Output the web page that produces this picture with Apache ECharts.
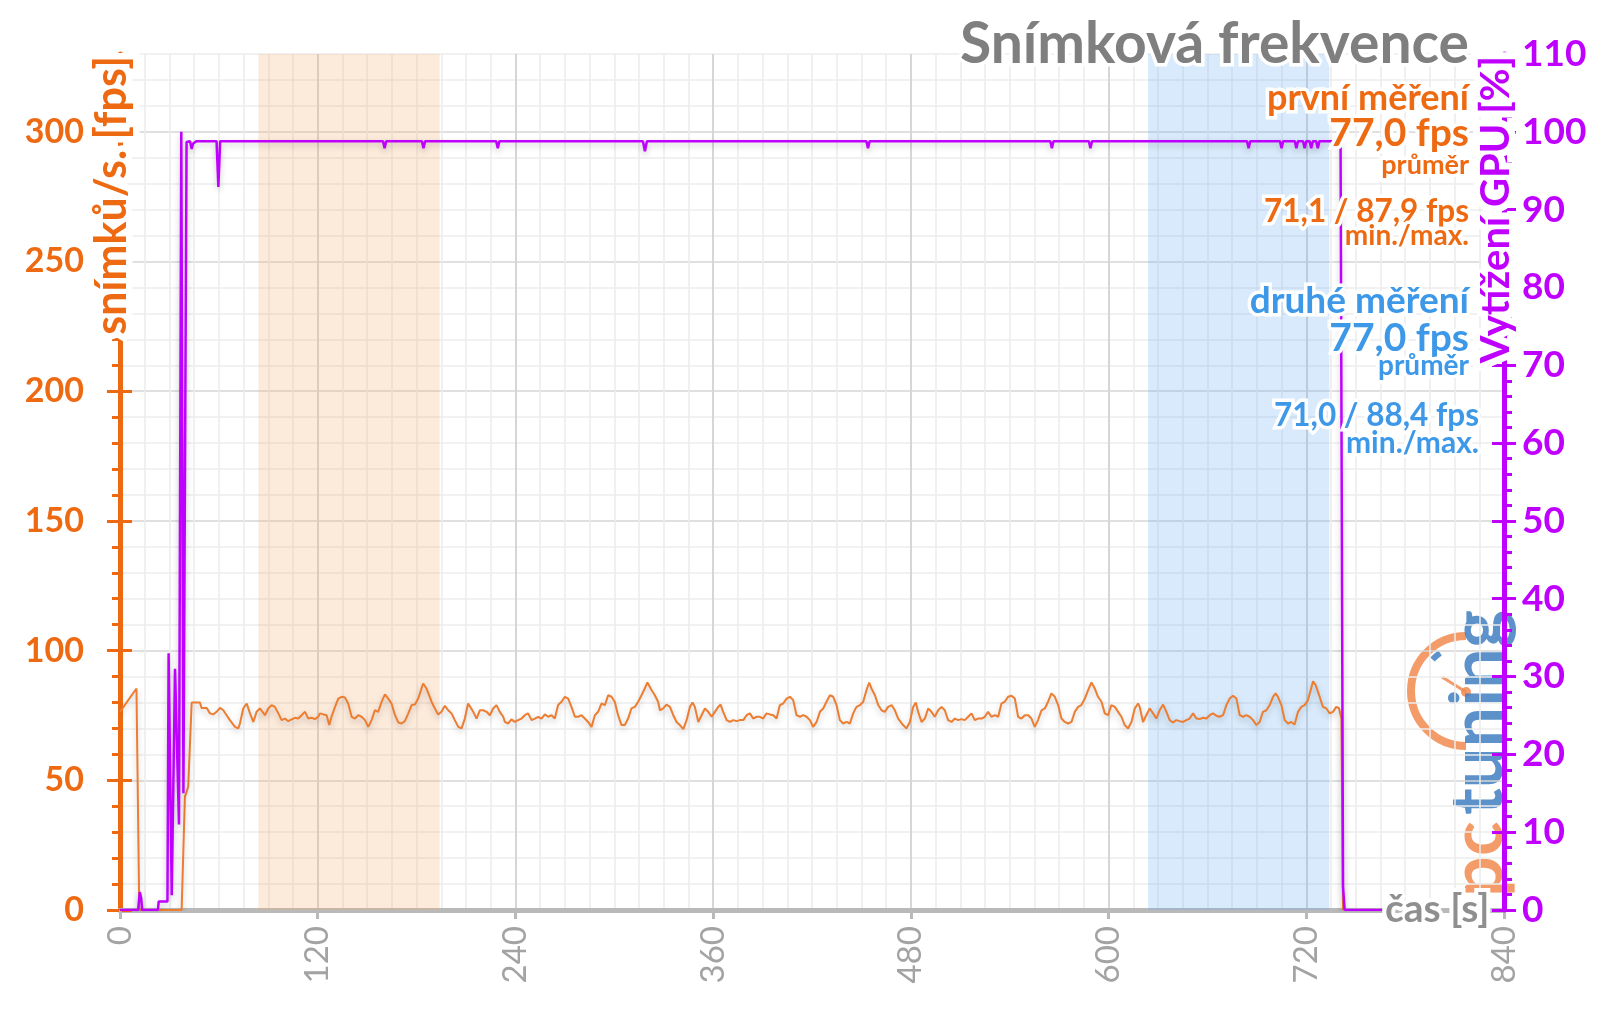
<!DOCTYPE html>
<html><head><meta charset="utf-8">
<script src="https://cdn.jsdelivr.net/npm/echarts@6/dist/echarts.min.js"></script>
<style>html,body{margin:0;padding:0;background:#fff}#c{width:1600px;height:1009px}</style>
</head><body><div id="c"></div>
<script>
// ---------- data ----------
const fpsTime = [0,10,11.7,37.4,39.4,41.4,43.5,48.5,49.5,52.6,54.6,56.6,58.6,60.7,62.7,64.7,66.7,69.8,71.8,72.8,74.8,76.9,78.9,80.9,82.9,84.9,88.0,90.0,92.0,94.0,96.1,98.1,100.1,102.1,104.2,106.2,108.2,110.2,112.3,114.3,116.3,118.3,120.3,121.4,123.4,125.4,127.0,128.4,130.5,132.5,134.5,136.5,138.5,140.6,142.6,144.6,146.6,148.7,150.7,152.7,154.7,156.7,158.8,160.8,162.8,164.8,166.9,168.9,170.9,172.9,175.0,177.0,179.0,181.0,
182.0,184.0,186.0,189.1,191.1,193.1,195.1,197.2,199.2,201.2,203.2,205.3,207.3,209.3,211.3,214.4,216.4,218.4,220.4,222.5,224.5,226.5,228.5,230.5,232.6,233.6,235.6,237.6,239.6,241.7,243.7,245.7,247.7,249.8,251.8,253.8,255.8,257.9,259.9,261.9,263.9,265.9,268.0,270.0,272.0,274.0,276.1,278.1,280.1,282.1,284.1,286.2,288.2,290.2,292.2,294.3,296.3,298.3,300.3,302.3,304.4,306.4,308.4,310.4,312.5,314.5,316.5,318.5,320.1,322.6,324.6,326.6,
327.7,329.7,331.7,333.8,335.8,337.8,339.8,341.9,343.9,345.9,347.5,348.9,351.0,353.0,355.0,357.0,359.1,361.1,363.1,364.5,366.1,368.2,370.2,372.2,374.2,376.2,378.3,380.3,382.3,384.3,386.4,388.4,390.4,392.4,394.5,396.5,398.5,400.5,402.5,404.6,406.6,408.6,410.6,412.7,414.7,416.7,418.7,420.7,422.8,424.8,426.8,428.8,430.9,432.9,434.9,436.9,438.9,441.0,443.0,445.0,447.0,449.1,451.1,453.1,454.7,456.1,458.2,460.2,462.2,464.2,466.2,468.3,470.3,472.3,
473.3,475.3,477.3,479.4,481.4,483.0,484.4,486.5,488.5,490.5,492.5,494.5,496.6,498.6,500.6,502.6,504.7,506.7,508.7,510.7,512.7,514.8,516.8,518.8,520.8,522.9,524.9,526.9,528.9,531.0,533.0,535.0,537.0,539.0,541.1,543.1,545.1,547.1,549.2,551.2,553.2,555.2,557.2,559.3,561.3,563.3,565.3,567.4,569.4,571.4,573.4,575.4,577.5,579.5,581.5,583.5,585.6,587.6,589.6,591.6,593.6,595.7,597.7,599.7,601.7,603.8,605.8,607.8,609.8,611.8,613.9,615.9,617.9,
618.9,620.9,622.9,625.0,627.0,629.0,631.0,633.1,635.1,637.1,639.1,641.1,643.2,645.2,647.2,649.2,651.3,653.3,655.3,657.3,659.4,661.4,663.4,665.4,667.4,669.5,671.5,673.5,675.5,677.6,679.6,681.6,683.6,685.6,687.7,689.7,691.7,693.7,695.8,697.8,699.8,701.4,702.8,704.9,706.9,708.9,710.9,712.9,715.0,717.0,719.0,721.0,722.7,724.1,725.7,728.1,730.1,732.2,734.2,736.2,738.2,739.9,741.3,742.3];
const fpsValues = [76.4,85.4,0,0,43.6,47.5,80.0,80.0,77.9,77.9,75.8,75.4,76.4,77.9,77.0,75.1,73.2,70.6,70.0,71.9,77.7,79.6,75.8,72.5,76.4,77.7,75.1,77.7,79.0,78.3,75.8,73.2,73.8,72.8,73.5,74.1,73.8,75.1,76.4,73.8,74.1,73.6,74.5,75.8,75.4,75.1,71.3,74.5,78.3,81.5,82.2,81.9,79.6,74.5,73.8,75.1,74.5,73.2,70.6,73.2,77.0,76.4,80.3,83.1,81.5,79.6,75.1,72.3,71.9,72.8,75.8,79.0,79.2,81.5,
82.2,87.3,85.4,80.3,77.7,75.4,76.4,78.7,77.0,75.8,73.2,70.6,70.0,73.8,79.6,76.4,73.8,77.0,77.0,76.4,75.1,77.7,79.0,76.4,74.5,72.5,71.9,73.5,72.5,73.2,73.8,75.1,75.8,73.2,73.8,74.5,73.8,75.4,74.5,75.1,73.8,79.0,80.3,82.2,81.5,78.3,74.5,74.5,75.1,73.8,72.5,70.6,75.1,76.4,79.6,79.0,82.8,82.2,80.3,75.1,71.3,71.3,73.8,77.7,78.3,80.3,82.8,85.4,87.7,84.8,82.8,80.3,
77.0,77.7,79.2,78.3,75.1,72.5,71.3,69.7,73.2,78.3,80.0,78.3,72.5,75.1,77.7,76.4,74.5,76.4,78.3,79.2,76.4,73.2,72.5,73.2,72.8,73.2,73.2,75.1,75.8,73.8,74.5,74.5,73.8,75.8,75.4,75.1,73.8,79.0,79.6,81.5,82.2,80.9,75.1,74.5,75.1,74.5,73.2,70.6,72.5,76.4,77.7,80.3,82.8,82.2,79.0,73.2,71.9,72.5,71.9,75.8,78.3,79.0,80.3,84.8,87.7,85.4,82.8,79.0,77.0,76.4,78.3,79.0,77.0,73.8,
73.2,71.3,70.0,72.5,78.3,80.0,76.4,72.5,73.8,77.7,76.4,74.5,77.0,78.3,77.0,73.2,72.5,73.8,73.2,73.6,73.2,74.5,75.8,73.2,73.8,73.8,74.5,76.4,74.5,75.1,74.5,79.6,80.3,82.2,82.6,81.5,74.5,73.8,75.1,75.1,73.8,70.6,73.2,77.0,77.7,80.3,83.5,82.2,79.0,73.8,72.5,71.9,72.5,76.4,78.3,79.0,81.5,84.8,87.7,85.4,82.2,80.3,75.8,75.1,79.0,78.3,76.4,74.5,71.3,70.0,72.5,77.7,79.6,
78.3,72.5,75.1,77.7,75.8,73.8,77.0,79.2,76.4,73.2,72.3,73.2,72.8,72.5,73.2,73.8,75.8,73.8,73.6,74.1,73.8,75.1,75.8,74.9,74.5,75.1,79.0,81.5,82.6,81.5,75.1,74.5,75.1,74.5,73.2,71.3,72.5,76.4,77.0,79.0,82.2,83.5,82.2,79.0,73.2,71.9,72.5,71.5,76.4,78.3,79.0,80.9,84.8,88.2,86.7,82.2,78.3,77.7,75.8,76.4,78.3,77.7,73.8,0];
const gpuTime = [0,11,12,12.8,13.5,23,23.5,28.8,29.5,31.4,33.4,35.8,37.2,38.5,40.4,42.5,43.5,44.4,46.5,58.6,59.7,60.8,159.6,160.6,161.6,183.2,184.2,185.2,228.3,229.3,230.3,317.4,318.6,319.8,453,454,455,564.6,565.6,566.6,588,589,590,684,685,686,704,705,706,713,714,715,718,719,720,722,723,724,726,727,728,740.8,742.3,743.3,766];
const gpuValues = [0,0,2.3,1.6,0,0,1.1,1.1,33,1.9,31,11,100,15,98.7,98.8,97.8,98.5,98.8,98.8,92.9,98.8,98.8,97.9,98.8,98.8,97.9,98.8,98.8,97.9,98.8,98.8,97.5,98.8,98.8,97.9,98.8,98.8,97.9,98.8,98.8,97.9,98.8,98.8,97.9,98.8,98.8,97.9,98.8,98.8,97.9,98.8,98.8,97.9,98.8,98.8,97.9,98.8,98.8,97.9,98.8,98.8,3,0,0];
const xTicks = [0,120,240,360,480,600,720,840];
const fpsTicks = [0,50,100,150,200,250,300];
const gpuTicks = [0,10,20,30,40,50,60,70,80,90,100,110];
const firstRun = [84,194];
const secondRun = [624,734];
const titleText = 'Snímková frekvence';
const firstTexts = ['první měření','77,0 fps','průměr','71,1 / 87,9 fps','min./max.'];
const secondTexts = ['druhé měření','77,0 fps','průměr','71,0 / 88,4 fps','min./max.'];
const xName = 'čas [s]', leftName = 'snímků/s. [fps]', rightName = 'Vytížení GPU [%]';

// ---------- style ----------
const OR = '#ee6a12', ORL = '#ed7d31', BL = '#3d98e8', PU = '#bf00ff', GR = '#7f7f7f';
const FF = 'Lato, "Open Sans", sans-serif';
const fpsData = fpsTime.map((t,i)=>[t,fpsValues[i]]);
const gpuData = gpuTime.map((t,i)=>[t,gpuValues[i]]);

function txt(x,y,s,font,fill,align,extra,lw){
  return Object.assign({type:'text', x:x, y:y, z:10, silent:true,
    style:{text:s, font:font, fill:fill, align:align, verticalAlign:'middle',
      textAlign:align, textVerticalAlign:'middle', stroke:'#fff', lineWidth:lw||7}}, extra||{});
}

const chart = echarts.init(document.getElementById('c'), null, {renderer:'canvas'});
chart.setOption({
  animation:false,
  backgroundColor:'#fff',
  grid:{left:120, right:96, top:54, bottom:99, containLabel:false},
  xAxis:{type:'value', min:0, max:840, interval:120,
    axisLine:{onZero:false, lineStyle:{color:'#b9b9b9', width:5}},
    axisTick:{length:9, lineStyle:{color:'#b9b9b9', width:3}},
    axisLabel:{rotate:90, color:'#a3a3a3', fontFamily:FF, fontSize:33, margin:16,
      formatter:v=>xTicks.includes(v)?String(v):''},
    splitLine:{show:true, lineStyle:{color:'#d6d6d6', width:2}},
    minorTick:{show:false, splitNumber:8},
    minorSplitLine:{show:true, lineStyle:{color:'#ececec', width:1.5}}
  },
  yAxis:[
    {type:'value', position:'left', min:0, max:330, interval:10,
      axisLine:{show:true, lineStyle:{color:OR, width:5}},
      axisTick:{show:true, length:8, lineStyle:{color:OR, width:3}},
      axisLabel:{color:OR, fontFamily:FF, fontWeight:'bold', fontSize:34, margin:36,
        formatter:v=>fpsTicks.includes(v)?String(v):''},
      splitLine:{show:true, lineStyle:{width:1.5, color:['#d6d6d6','#ececec','#ececec','#ececec','#ececec']}}
    },
    {type:'value', position:'left', offset:-12, min:0, max:330, interval:50,
      axisLine:{show:false}, axisTick:{show:true, length:25, lineStyle:{color:OR, width:3}},
      axisLabel:{show:false}, splitLine:{show:false}},
    {type:'value', position:'right', min:0, max:110, interval:2, z:5,
      axisLine:{show:true, lineStyle:{color:PU, width:5}},
      axisTick:{show:true, length:8, lineStyle:{color:PU, width:3}},
      axisLabel:{color:PU, fontFamily:FF, fontWeight:'bold', fontSize:37, margin:18,
        formatter:v=>gpuTicks.includes(v)?String(v):''},
      splitLine:{show:false}},
    {type:'value', position:'right', offset:-12, min:0, max:110, interval:10, z:5,
      axisLine:{show:false}, axisTick:{show:true, length:24, lineStyle:{color:PU, width:3}},
      axisLabel:{show:false}, splitLine:{show:false}}
  ],
  series:[
    {type:'line', data:[], yAxisIndex:0, z:1, silent:true,
      markArea:{silent:true, data:[
        [{xAxis:firstRun[0], itemStyle:{color:'rgba(245,170,110,0.25)'}},{xAxis:firstRun[1]}],
        [{xAxis:secondRun[0], itemStyle:{color:'rgba(100,170,240,0.25)'}},{xAxis:secondRun[1]}]
      ]}},
    {type:'line', name:'fps', data:fpsData, yAxisIndex:0, showSymbol:false, symbol:'none', z:2,
      lineStyle:{color:ORL, width:2, shadowColor:'rgba(0,0,0,0.22)', shadowBlur:6, shadowOffsetY:3}},
    {type:'line', name:'gpu', data:gpuData, yAxisIndex:2, showSymbol:false, symbol:'none', z:3,
      lineStyle:{color:PU, width:2.5, shadowColor:'rgba(0,0,0,0.22)', shadowBlur:6, shadowOffsetY:3}}
  ],
  graphic:[
    {type:'group', z:1, silent:true, children:[
      {type:'arc', shape:{cx:1466, cy:691, r:55, startAngle:Math.PI/2, endAngle:Math.PI*1.5, clockwise:true},
        style:{stroke:'#f28a50', lineWidth:8, fill:null, opacity:0.85}},
      {type:'arc', shape:{cx:1466, cy:691, r:46, startAngle:Math.PI*1.24, endAngle:Math.PI*1.31, clockwise:true},
        style:{stroke:'#3f7fbf', lineWidth:6, fill:null, opacity:0.85}},
      {type:'line', shape:{x1:1466, y1:692, x2:1442, y2:677}, style:{stroke:'#f28a50', lineWidth:3, opacity:0.85}},
      {type:'circle', shape:{cx:1466, cy:692, r:5}, style:{fill:'#f28a50', opacity:0.85}},
      {type:'text', x:1479, y:897, rotation:Math.PI/2, style:{text:'pc', font:'bold 72px '+FF, fill:'#f28a50', opacity:0.85, align:'left', verticalAlign:'middle', textAlign:'left', textVerticalAlign:'middle'}},
      {type:'text', x:1479, y:815, rotation:Math.PI/2, style:{text:'tuning', font:'bold 72px '+FF, fill:'#3f7fbf', opacity:0.85, align:'left', verticalAlign:'middle', textAlign:'left', textVerticalAlign:'middle'}}
    ]},
    txt(1469, 45, titleText, 'bold 57px '+FF, GR, 'right'),
    txt(1469, 98, firstTexts[0], 'bold 36px '+FF, OR, 'right'),
    txt(1469, 133.5, firstTexts[1], 'bold 39px '+FF, OR, 'right'),
    txt(1469, 165, firstTexts[2], 'bold 27px '+FF, OR, 'right'),
    txt(1469, 212, firstTexts[3], 'bold 31.5px '+FF, OR, 'right'),
    txt(1469, 235.5, firstTexts[4], 'bold 28px '+FF, OR, 'right'),
    txt(1469, 301, secondTexts[0], 'bold 37px '+FF, BL, 'right'),
    txt(1469, 338, secondTexts[1], 'bold 39px '+FF, BL, 'right'),
    txt(1469, 366, secondTexts[2], 'bold 28px '+FF, BL, 'right'),
    txt(1479, 416, secondTexts[3], 'bold 31.5px '+FF, BL, 'right'),
    txt(1479, 443, secondTexts[4], 'bold 30px '+FF, BL, 'right'),
    txt(1385, 909, xName, 'bold 39px '+FF, '#8f8f8f', 'left', null, 8),
    txt(112, 56, leftName, 'bold 43px '+FF, OR, 'right', {rotation:Math.PI/2}, 13),
    txt(1496, 56, rightName, 'bold 40px '+FF, PU, 'right', {rotation:Math.PI/2}, 14)
  ]
});
</script></body></html>
